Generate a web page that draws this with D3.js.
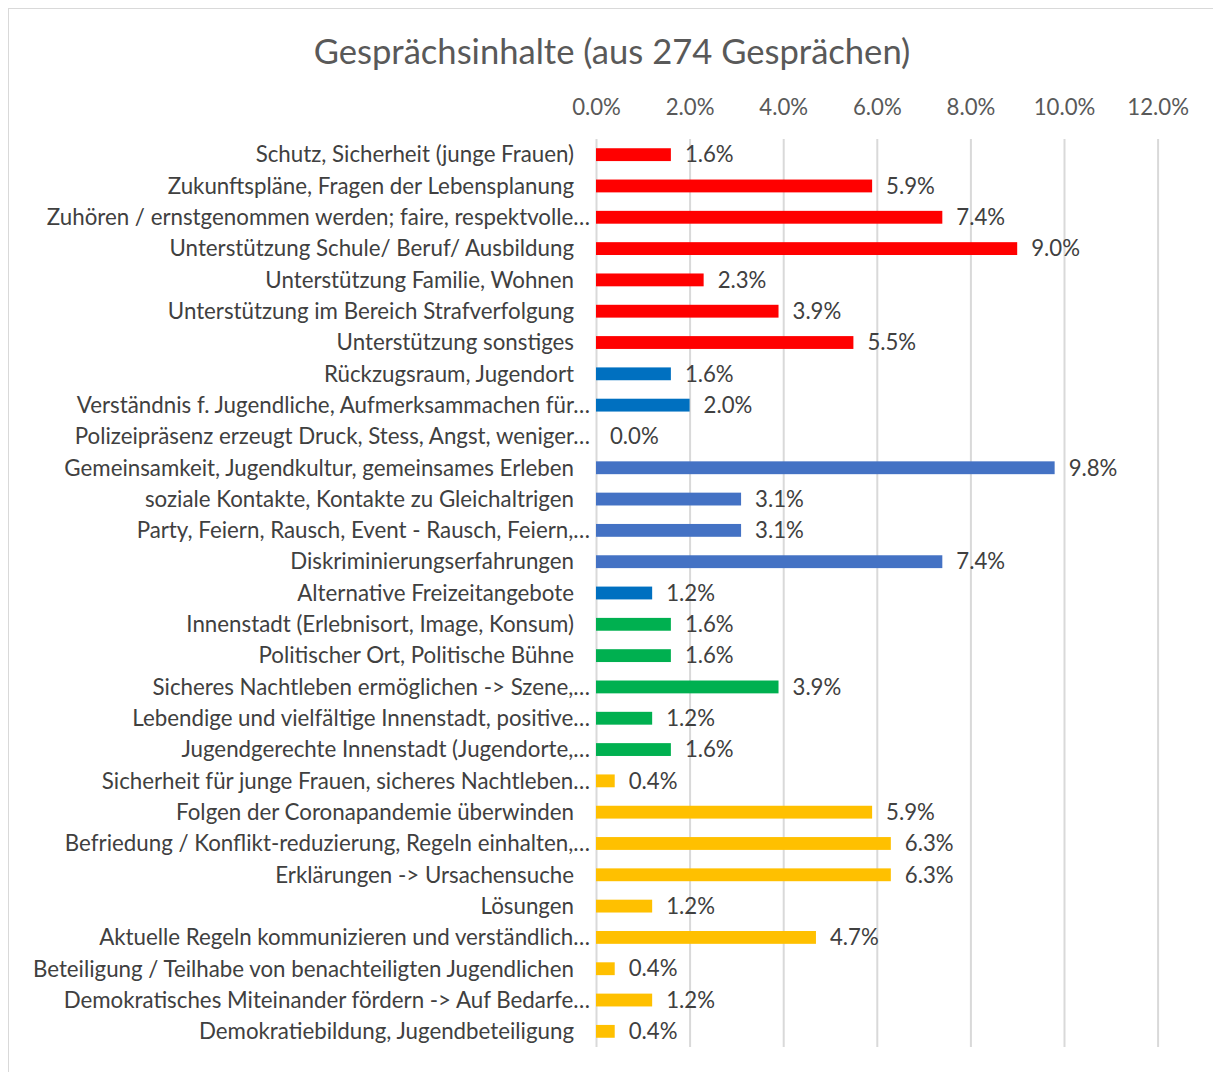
<!DOCTYPE html>
<html>
<head>
<meta charset="utf-8">
<script src="https://cdn.jsdelivr.net/npm/d3@7"></script>
<style>
  body { margin: 0; background: #fff; }
  svg text { font-family: Lato, "Open Sans", sans-serif; }
  .axis text { fill: #595959; font-size: 22.2px; }
  .axis .tick line { stroke: #d9d9d9; stroke-width: 2; }
  .cat-label { fill: #404040; font-size: 22.3px; }
  .val-label { fill: #404040; font-size: 22.2px; }
  .title { fill: #595959; font-size: 34.6px; }
</style>
</head>
<body>
<svg id="chart"></svg>
<script>
// Categories (top to bottom)
const categories = [
  'Schutz, Sicherheit (junge Frauen)',
  'Zukunftspläne, Fragen der Lebensplanung',
  'Zuhören / ernstgenommen werden; faire, respektvolle…',
  'Unterstützung Schule/ Beruf/ Ausbildung',
  'Unterstützung Familie, Wohnen',
  'Unterstützung im Bereich Strafverfolgung',
  'Unterstützung sonstiges',
  'Rückzugsraum, Jugendort',
  'Verständnis f. Jugendliche, Aufmerksammachen für…',
  'Polizeipräsenz erzeugt Druck, Stess, Angst, weniger…',
  'Gemeinsamkeit, Jugendkultur, gemeinsames Erleben',
  'soziale Kontakte, Kontakte zu Gleichaltrigen',
  'Party, Feiern, Rausch, Event - Rausch, Feiern,…',
  'Diskriminierungserfahrungen',
  'Alternative Freizeitangebote',
  'Innenstadt (Erlebnisort, Image, Konsum)',
  'Politischer Ort, Politische Bühne',
  'Sicheres Nachtleben ermöglichen -> Szene,…',
  'Lebendige und vielfältige Innenstadt, positive…',
  'Jugendgerechte Innenstadt (Jugendorte,…',
  'Sicherheit für junge Frauen, sicheres Nachtleben…',
  'Folgen der Coronapandemie überwinden',
  'Befriedung / Konflikt-reduzierung, Regeln einhalten,…',
  'Erklärungen -> Ursachensuche',
  'Lösungen',
  'Aktuelle Regeln kommunizieren und verständlich…',
  'Beteiligung / Teilhabe von benachteiligten Jugendlichen',
  'Demokratisches Miteinander fördern -> Auf Bedarfe…',
  'Demokratiebildung, Jugendbeteiligung'
];

// Share of conversations in percent
const values = [
  1.6, 5.9, 7.4, 9.0, 2.3, 3.9, 5.5,
  1.6, 2.0, 0.0, 9.8, 3.1, 3.1, 7.4, 1.2,
  1.6, 1.6, 3.9, 1.2, 1.6,
  0.4, 5.9, 6.3, 6.3, 1.2, 4.7, 0.4, 1.2, 0.4
];

// Colour group per bar
const groups = [
  'red', 'red', 'red', 'red', 'red', 'red', 'red',
  'blue', 'blue', 'blue', 'steel', 'steel', 'steel', 'steel', 'blue',
  'green', 'green', 'green', 'green', 'green',
  'gold', 'gold', 'gold', 'gold', 'gold', 'gold', 'gold', 'gold', 'gold'
];

const groupColors = {red: '#ff0000', blue: '#0070c0', steel: '#4472c4', green: '#00b050', gold: '#ffc000'};

const xTicks = [0, 2, 4, 6, 8, 10, 12];

const title = 'Gesprächsinhalte (aus 274 Gesprächen)';

class BarChart {
  constructor(_config, _data) {
    this.config = {
      parentElement: _config.parentElement,
      containerWidth: _config.containerWidth || 1213,
      containerHeight: _config.containerHeight || 1072,
      margin: _config.margin || {top: 139, right: 55, bottom: 24, left: 596}
    }
    this.data = _data;
    this.initVis();
  }

  initVis() {
    let vis = this;

    vis.width = vis.config.containerWidth - vis.config.margin.left - vis.config.margin.right;
    vis.height = vis.config.containerHeight - vis.config.margin.top - vis.config.margin.bottom;

    vis.xScale = d3.scaleLinear()
        .domain([0, 12])
        .range([0, 561.6]);

    vis.yScale = d3.scaleBand()
        .domain(vis.data.map(d => d.category))
        .range([0, 908])
        .paddingInner(0.59)
        .paddingOuter(0.295);

    vis.xAxis = d3.axisTop(vis.xScale)
        .tickValues(xTicks)
        .tickFormat(d => d.toFixed(1) + '%')
        .tickSize(-908)
        .tickPadding(24);

    vis.svg = d3.select(vis.config.parentElement)
        .attr('width', vis.config.containerWidth)
        .attr('height', vis.config.containerHeight);

    // chart border
    vis.svg.append('rect')
        .attr('x', 8.5)
        .attr('y', 8.5)
        .attr('width', 1212)
        .attr('height', 1070)
        .attr('fill', '#fff')
        .attr('stroke', '#d9d9d9');

    vis.svg.append('text')
        .attr('class', 'title')
        .attr('x', 612)
        .attr('y', 64)
        .attr('text-anchor', 'middle')
        .text(title);

    vis.chart = vis.svg.append('g')
        .attr('transform', `translate(${vis.config.margin.left},${vis.config.margin.top})`);

    vis.xAxisG = vis.chart.append('g')
        .attr('class', 'axis x-axis');

    vis.updateVis();
  }

  updateVis() {
    let vis = this;

    vis.xAxisG
        .call(vis.xAxis)
        .call(g => g.select('.domain').remove());

    vis.chart.selectAll('.bar')
        .data(vis.data)
        .join('rect')
        .attr('class', 'bar')
        .attr('x', 0)
        .attr('y', d => vis.yScale(d.category))
        .attr('width', d => vis.xScale(d.value))
        .attr('height', vis.yScale.bandwidth())
        .attr('fill', d => groupColors[d.group]);

    vis.chart.selectAll('.val-label')
        .data(vis.data)
        .join('text')
        .attr('class', 'val-label')
        .attr('x', d => vis.xScale(d.value) + 14)
        .attr('y', d => vis.yScale(d.category) + vis.yScale.bandwidth() / 2)
        .attr('dy', '0.35em')
        .text(d => d.value.toFixed(1) + '%');

    // category labels; truncated ones (ending in ellipsis) sit further right
    vis.chart.selectAll('.cat-label')
        .data(vis.data)
        .join('text')
        .attr('class', 'cat-label')
        .attr('x', d => d.category.endsWith('…') ? -6 : -22)
        .attr('y', d => vis.yScale(d.category) + vis.yScale.bandwidth() / 2)
        .attr('dy', '0.35em')
        .attr('text-anchor', 'end')
        .text(d => d.category);
  }
}

const data = categories.map((c, i) => ({category: c, value: values[i], group: groups[i]}));
new BarChart({parentElement: '#chart'}, data);
</script>
</body>
</html>
